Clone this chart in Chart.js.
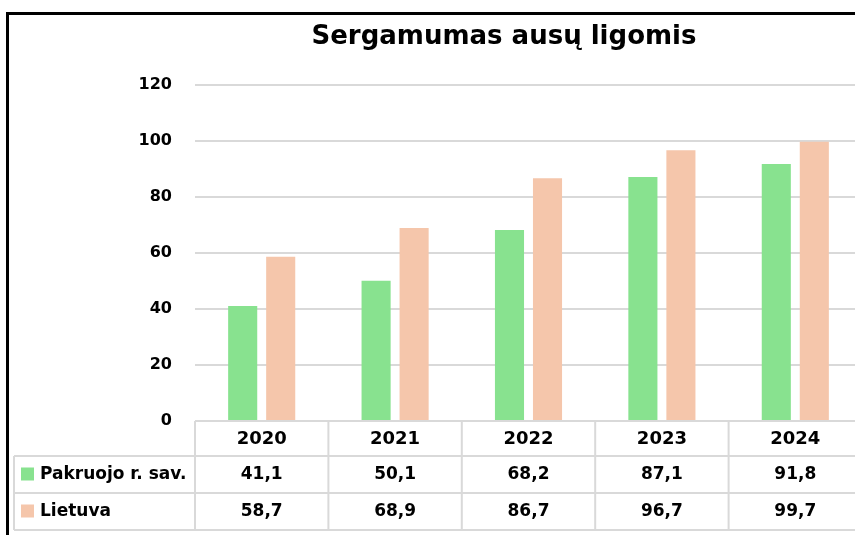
<!DOCTYPE html>
<html>
<head>
<meta charset="utf-8">
<script src="https://cdn.jsdelivr.net/npm/chart.js@4"></script>
<style>
  html, body { margin: 0; padding: 0; background: #fff; overflow: hidden; width: 855px; height: 535px; }
  #wrap { position: relative; width: 1008px; height: 535px; }
  #frame { position: absolute; left: 6px; top: 12px; width: 1100px; height: 600px;
           border-left: 3px solid #000; border-top: 3px solid #000; }
  #c { position: absolute; left: 0; top: 0; }
</style>
</head>
<body>
<div id="wrap">
  <div id="frame"></div>
  <canvas id="c" width="1008" height="535"></canvas>
</div>
<script>
// Incidence of ear diseases, per year
const years = ['2020', '2021', '2022', '2023', '2024'];
const pakruojo = [41.1, 50.1, 68.2, 87.1, 91.8];
const lietuva = [58.7, 68.9, 86.7, 96.7, 99.7];
const seriesNames = ['Pakruojo r. sav.', 'Lietuva'];
const yTicks = [0, 20, 40, 60, 80, 100, 120];
const chartTitle = 'Sergamumas ausų ligomis';

const GREEN = '#88e28f';
const PEACH = '#f5c6ab';
const GRID = '#d9d9d9';
const FONT = '"DejaVu Sans", sans-serif';

const fmt = v => v.toFixed(1).replace('.', ',');

// Title centred over the whole framed area (wider than the plot)
const frameTitle = {
  id: 'frameTitle',
  afterDraw(chart) {
    const { ctx } = chart;
    ctx.save();
    ctx.fillStyle = '#000';
    ctx.font = 'bold 26px ' + FONT;
    ctx.textAlign = 'center';
    ctx.textBaseline = 'alphabetic';
    ctx.fillText(chartTitle, chart.width / 2, 44);
    ctx.restore();
  }
};

// Data table under the plot, aligned with the category columns
const dataTable = {
  id: 'dataTable',
  afterDraw(chart) {
    const { ctx, chartArea: a } = chart;
    const n = years.length;
    const colW = (a.right - a.left) / n;
    const tableLeft = 14;
    const rowTops = [a.bottom, a.bottom + 35, a.bottom + 72];
    const tableBottom = a.bottom + 109;
    const series = [
      { name: seriesNames[0], values: pakruojo, color: GREEN },
      { name: seriesNames[1], values: lietuva, color: PEACH }
    ];

    ctx.save();
    ctx.strokeStyle = GRID;
    ctx.lineWidth = 2;
    ctx.beginPath();
    // horizontal rules
    ctx.moveTo(a.left, rowTops[0]); ctx.lineTo(a.right, rowTops[0]);
    for (let r = 1; r < rowTops.length; r++) {
      ctx.moveTo(tableLeft, rowTops[r]); ctx.lineTo(a.right, rowTops[r]);
    }
    ctx.moveTo(tableLeft, tableBottom); ctx.lineTo(a.right, tableBottom);
    // vertical rules
    for (let i = 0; i <= n; i++) {
      const x = a.left + i * colW;
      ctx.moveTo(x, rowTops[0]); ctx.lineTo(x, tableBottom);
    }
    ctx.moveTo(tableLeft, rowTops[1]); ctx.lineTo(tableLeft, tableBottom);
    ctx.stroke();

    ctx.fillStyle = '#000';
    ctx.textBaseline = 'middle';
    ctx.textAlign = 'center';
    ctx.font = 'bold 18px ' + FONT;
    const hdrMid = (rowTops[0] + rowTops[1]) / 2 + 1;
    years.forEach((y, i) => ctx.fillText(y, a.left + (i + 0.5) * colW, hdrMid));

    ctx.font = 'bold 17px ' + FONT;
    series.forEach((s, r) => {
      const top = rowTops[r + 1];
      const bottom = r + 2 < rowTops.length ? rowTops[r + 2] : tableBottom;
      const mid = (top + bottom) / 2;
      ctx.fillStyle = s.color;
      ctx.fillRect(21, mid - 7, 13, 13);
      ctx.fillStyle = '#000';
      ctx.textAlign = 'left';
      ctx.fillText(s.name, 40, mid);
      ctx.textAlign = 'center';
      s.values.forEach((v, i) => ctx.fillText(fmt(v), a.left + (i + 0.5) * colW, mid));
    });
    ctx.restore();
  }
};

new Chart(document.getElementById('c'), {
  type: 'bar',
  data: {
    labels: years,
    datasets: [
      { label: seriesNames[0], data: pakruojo, backgroundColor: GREEN,
        categoryPercentage: 0.57, barPercentage: 0.765 },
      { label: seriesNames[1], data: lietuva, backgroundColor: PEACH,
        categoryPercentage: 0.57, barPercentage: 0.765 }
    ]
  },
  options: {
    responsive: false,
    animation: false,
    devicePixelRatio: 1,
    layout: { padding: { left: 0, right: 146, top: 85, bottom: 114 } },
    plugins: {
      legend: { display: false },
      tooltip: { enabled: false },
      title: { display: false }
    },
    scales: {
      x: { display: false },
      y: {
        min: 0, max: 120,
        afterFit(scale) { scale.width = 195; },
        afterBuildTicks(scale) { scale.ticks = yTicks.map(v => ({ value: v })); },
        border: { display: false },
        grid: { color: GRID, lineWidth: 2, drawTicks: false },
        ticks: {
          padding: 23,
          color: '#000',
          font: { family: FONT, size: 16, weight: 'bold' }
        }
      }
    }
  },
  plugins: [dataTable, frameTitle]
});
</script>
</body>
</html>
